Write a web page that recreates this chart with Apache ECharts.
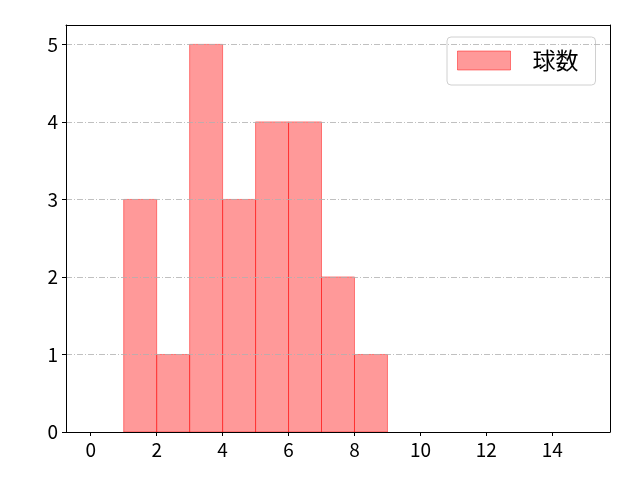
<!DOCTYPE html>
<html>
<head>
<meta charset="utf-8">
<script src="https://cdn.jsdelivr.net/npm/echarts@6/dist/echarts.min.js"></script>
<style>html,body{margin:0;padding:0;background:#fff;}#c{width:640px;height:480px;}</style>
</head>
<body>
<div id="c"></div>
<script>
const binStarts = [1, 2, 3, 4, 5, 6, 7, 8];
const binEnds   = [2, 3, 4, 5, 6, 7, 8, 9];
const counts    = [3, 1, 5, 3, 4, 4, 2, 1];
const xTicks = [0, 2, 4, 6, 8, 10, 12, 14];
const seriesName = '球数';

const FONT = '"Noto Sans CJK JP", sans-serif';
const data = binStarts.map((s, i) => [s, binEnds[i], counts[i]]);

const chart = echarts.init(document.getElementById('c'));
chart.setOption({
  animation: false,
  backgroundColor: '#fff',
  grid: { left: 66, right: 30, top: 25, bottom: 48, show: false },
  legend: {
    left: 447, top: 37,
    data: [{ name: seriesName, icon: 'rect' }],
    itemWidth: 53, itemHeight: 19,
    padding: [12, 17, 13, 10],
    backgroundColor: '#fff',
    borderColor: '#d0d0d0', borderWidth: 1, borderRadius: 4,
    textStyle: { fontFamily: FONT, fontSize: 23, color: '#000', padding: [0, 0, 0, 17] },
    itemStyle: { color: 'rgba(255,0,0,0.4)', borderColor: 'rgba(255,0,0,0.45)', borderWidth: 1 }
  },
  xAxis: [{
    type: 'value', min: -0.75, max: 15.75, z: 11,
    axisLine: { show: true, onZero: false, lineStyle: { color: '#000' } },
    axisTick: { show: true, length: 4, customValues: xTicks, lineStyle: { color: '#000' } },
    axisLabel: { customValues: xTicks, fontFamily: FONT, fontSize: 19, color: '#000', margin: 8 },
    splitLine: { show: false }
  }, {
    type: 'value', min: -0.75, max: 15.75, position: 'top', z: 11,
    axisLine: { show: true, onZero: false, lineStyle: { color: '#000' } },
    axisTick: { show: false }, axisLabel: { show: false }, splitLine: { show: false }
  }],
  yAxis: [{
    type: 'value', min: 0, max: 5.25, interval: 1, z: 10,
    axisLine: { show: true, onZero: false, lineStyle: { color: '#000' } },
    axisTick: { show: true, length: 4, lineStyle: { color: '#000' } },
    axisLabel: { fontFamily: FONT, fontSize: 19, color: '#000', margin: 8, showMaxLabel: false },
    splitLine: { show: true, lineStyle: { color: '#b0b0b0', width: 0.8, type: [6, 2, 1, 2] } }
  }, {
    type: 'value', min: 0, max: 5.25, position: 'right', z: 11,
    axisLine: { show: true, onZero: false, lineStyle: { color: '#000' } },
    axisTick: { show: false }, axisLabel: { show: false }, splitLine: { show: false }
  }],
  series: [{
    name: seriesName,
    type: 'custom',
    xAxisIndex: 0, yAxisIndex: 0,
    data: data,
    encode: { x: [0, 1], y: 2 },
    renderItem: function (params, api) {
      const p0 = api.coord([api.value(0), 0]);
      const p1 = api.coord([api.value(1), api.value(2)]);
      return {
        type: 'rect',
        shape: { x: p0[0], y: p1[1], width: p1[0] - p0[0], height: p0[1] - p1[1] },
        style: { fill: 'rgba(255,0,0,0.4)', stroke: 'rgba(255,0,0,0.45)', lineWidth: 1 }
      };
    },
    itemStyle: { color: 'rgba(255,0,0,0.4)', borderColor: 'rgba(255,0,0,0.45)' }
  }]
});
</script>
</body>
</html>
